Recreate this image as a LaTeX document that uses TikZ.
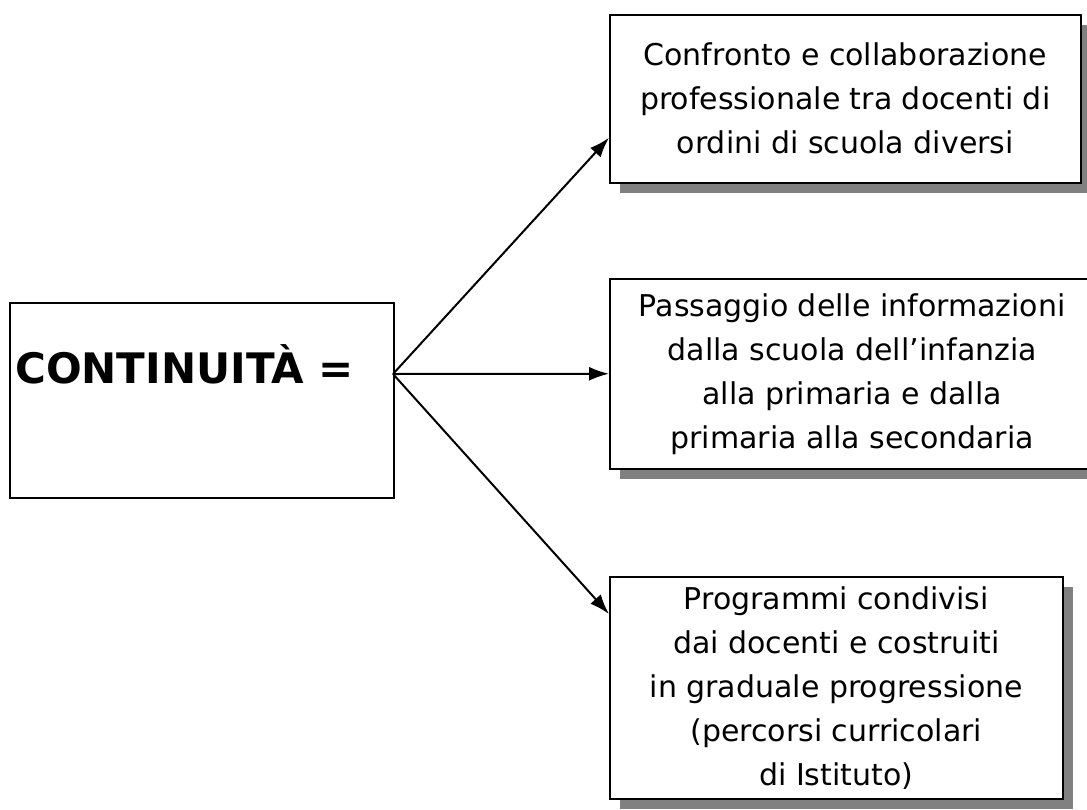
\documentclass[tikz,border=0pt]{standalone}
\usepackage{fontspec}
\setmainfont{DejaVu Sans}
\usetikzlibrary{arrows.meta,shadows,calc}
\tikzset{
  voce/.style={draw,line width=1.5pt,fill=white,align=center,inner sep=0pt,
    font=\fontsize{30}{44}\selectfont,
    general shadow={fill=gray,shadow xshift=10pt,shadow yshift=-10pt}},
  freccia/.style={-{Latex[length=20pt,width=14pt]},line width=2pt}
}
\begin{document}
\begin{tikzpicture}[x=1pt,y=-1pt]
        \clip (0,0) rectangle (1087,809);
        \fill[white] (0,0) rectangle (1087,809);
        \node[draw,line width=1.5pt,anchor=north west,minimum width=384pt,minimum height=195pt] (cont) at (9,302) {};
        \node[font=\fontsize{42}{48}\selectfont\bfseries,anchor=west,inner sep=0pt] (contlab) at (15,364) {CONTINUITÀ =};
        \coordinate (hub) at (393,374);
        \node[voce,anchor=north west,minimum width=471pt,minimum height=168pt] (conf) at (609,14)
            {Confronto e collaborazione\\professionale tra docenti di\\ordini di scuola diversi};
        \node[voce,anchor=north west,minimum width=485pt,minimum height=190pt] (pass) at (609,278)
            {Passaggio delle informazioni\\dalla scuola dell’infanzia\\alla primaria e dalla\\primaria alla secondaria};
        \node[voce,anchor=north west,minimum width=453pt,minimum height=222pt] (prog) at (609,576)
            {Programmi condivisi\\dai docenti e costruiti\\in graduale progressione\\(percorsi curricolari\\di Istituto)};
        \draw[freccia] (hub) -- ($(conf.south west)!0.27!(conf.north west)$);
        \draw[freccia] (hub) -- (pass.west);
        \draw[freccia] (hub) -- ($(prog.north west)!0.17!(prog.south west)$);
\end{tikzpicture}
\end{document}
